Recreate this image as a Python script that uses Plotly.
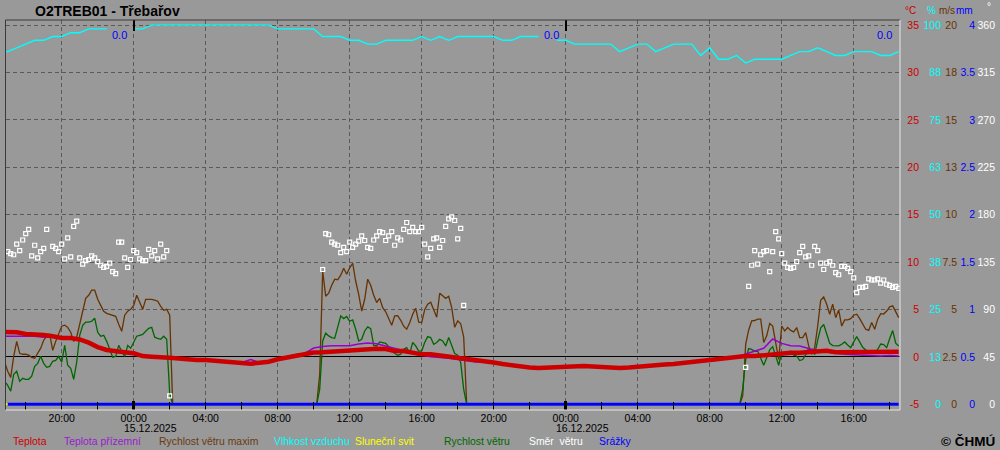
import plotly.graph_objects as go
import pandas as pd

FONT = "Liberation Sans, Arial, sans-serif"

# ---------------- DATA ----------------
# 30-minute grid 14.12.2025 16:30 ... 16.12.2025 18:30
t30_start = "2025-12-14 16:30"
teplota = [2.63, 2.60, 2.60, 2.42, 2.42, 2.31, 2.17, 1.99, 1.99, 1.84,
           1.50, 1.04, 0.73, 0.55, 0.49, 0.38, 0.09, 0.02, 0.02, -0.08,
           -0.17, -0.27, -0.33, -0.33, -0.43, -0.43, -0.57, -0.64, -0.72, -0.61,
           -0.51, -0.25, -0.08, 0.02, 0.25, 0.46, 0.49, 0.55, 0.62, 0.76,
           0.76, 0.86, 0.86, 0.83, 0.62, 0.62, 0.44, 0.27, 0.27, 0.15,
           0.13, -0.04, -0.17, -0.33, -0.46, -0.59, -0.75, -0.91, -1.01, -1.12,
           -1.17, -1.12, -1.07, -1.01, -0.96, -0.96, -1.01, -1.07, -1.12, -1.17,
           -1.12, -1.01, -0.96, -0.85, -0.80, -0.75, -0.64, -0.54, -0.49, -0.38,
           -0.27, -0.12, -0.04, 0.09, 0.09, 0.20, 0.34, 0.34, 0.44, 0.44,
           0.52, 0.52, 0.65, 0.49, 0.49, 0.49, 0.49, 0.55, 0.55, 0.55,
           0.55]
teplota_prizemni = [2.17, 2.17, 2.17, 2.17, 2.17, 2.07, 2.07, 2.07, 1.94, 1.78,
                    1.41, 0.99, 0.68, 0.52, 0.41, 0.31, 0.04, -0.01, -0.01, -0.12,
                    -0.19, -0.30, -0.35, -0.35, -0.45, -0.45, -0.59, -0.59, -0.27, -0.61,
                    -0.51, -0.22, 0.04, 0.25, 0.36, 0.94, 1.10, 1.18, 1.18, 1.18,
                    1.36, 1.47, 1.39, 1.15, 0.91, 0.68, 0.38, 0.17, 0.02, -0.04,
                    -0.15, -0.27, -0.43, -0.54, -0.51, -0.64, -0.80, -0.96, -1.06, -1.17,
                    -1.22, -1.17, -1.12, -1.06, -1.01, -1.01, -1.06, -1.12, -1.17, -1.22,
                    -1.17, -1.06, -1.01, -0.90, -0.85, -0.80, -0.69, -0.59, -0.54, -0.43,
                    -0.32, -0.17, -0.04, 0.31, 0.65, 0.91, 1.89, 1.43, 1.18, 1.15,
                    0.89, 0.64, 0.52, 0.38, 0.28, 0.22, 0.15, 0.09, 0.09, 0.15,
                    0.09]
vlhkost = [93, 93, 94, 95, 96, 96, 97, 97, 98, 98,
           99, 99, 99, None, None, 99, 99, 100, 100, 100,
           100, 100, 100, 100, 100, 100, 100, 100, 100, 100,
           100, 99, 99, 99, 99, 99, 97, 97, 97, 96,
           96, 95, 95, 96, 96, 96, 96, 97, 96, 97,
           96, 97, 97, 97, 97, 97, 96, 96, 97, 97,
           97, None, 96, 96, 95, 95, 95, 95, 95, 93,
           94, 95, 95, 93, 94, 95, 95, 95, 92, 94,
           91, 91, 92, 90, 91, 91, 91, 91, 92, 93,
           93, 94, 93, 92, 92, 93, 93, 93, 92, 92,
           93]
slunecni_svit = [0, 0, 0, 0, 0, 0, 0, 0, 0, 0, 0, 0, 0, 0, 0, 0, 0, 0, 0, 0,
                 0, 0, 0, 0, 0, 0, 0, 0, 0, 0, 0, 0, 0, 0, 0, 0, 0, 0, 0, 0,
                 0, 0, 0, 0, 0, 0, 0, 0, 0, 0, 0, 0, 0, 0, 0, 0, 0, 0, 0, 0,
                 0, 0, 0, 0, 0, 0, 0, 0, 0, 0, 0, 0, 0, 0, 0, 0, 0, 0, 0, 0,
                 0, 0, 0, 0, 0, 0, 0, 0, 0, 0, 0, 0, 0, 0, 0, 0, 0, 0, 0, 0,
                 0]
# precipitation, 30-minute grid 14.12 17:00 ... 16.12 18:30
srazky_start = "2025-12-14 17:00"
srazky = [0.0, 0.0, 0.0, 0.0, 0.0, 0.0, 0.0, 0.0, 0.0, 0.0, 0.0, 0.0, 0.0, 0.0, 0.0, 0.0, 0.0, 0.0, 0.0, 0.0,
          0.0, 0.0, 0.0, 0.0, 0.0, 0.0, 0.0, 0.0, 0.0, 0.0, 0.0, 0.0, 0.0, 0.0, 0.0, 0.0, 0.0, 0.0, 0.0, 0.0,
          0.0, 0.0, 0.0, 0.0, 0.0, 0.0, 0.0, 0.0, 0.0, 0.0, 0.0, 0.0, 0.0, 0.0, 0.0, 0.0, 0.0, 0.0, 0.0, 0.0,
          0.0, 0.0, 0.0, 0.0, 0.0, 0.0, 0.0, 0.0, 0.0, 0.0, 0.0, 0.0, 0.0, 0.0, 0.0, 0.0, 0.0, 0.0, 0.0, 0.0,
          0.0, 0.0, 0.0, 0.0, 0.0, 0.0, 0.0, 0.0, 0.0, 0.0, 0.0, 0.0, 0.0, 0.0, 0.0, 0.0, 0.0, 0.0, 0.0, 0.0]
denni_srazky_cas = ["2025-12-15 00:00", "2025-12-16 00:00", "2025-12-16 18:30"]
denni_srazky = [0.0, 0.0, 0.0]

# wind, 10-minute steps, three windy periods (calm = 0 in between)
vitr_useky = ["2025-12-14 16:50", "2025-12-15 10:10", "2025-12-16 09:40"]
vitr_max_A = [2.22, 1.74, 1.42, 2.53, 3.32, 2.69, 2.64, 2.64, 2.59, 2.48,
              2.43, 2.69, 2.96, 3.38, 3.59, 3.69, 2.85, 3.32, 3.69, 4.12,
              4.17, 4.06, 3.80, 3.32, 3.54, 4.22, 4.91, 5.59, 5.75, 6.02,
              6.02, 5.54, 5.22, 4.91, 4.80, 4.75, 4.70, 4.64, 4.22, 3.85,
              4.70, 4.91, 5.01, 5.22, 5.75, 5.33, 5.01, 5.54, 5.54, 5.54,
              5.49, 5.44, 5.17, 4.96, 5.01, 4.70, 0.0]
vitr_max_B = [0.0, 1.58, 7.02, 5.70, 5.86, 6.28, 6.60, 6.57, 6.81, 7.18,
              6.86, 7.20, 7.44, 6.49, 5.80, 4.92, 5.54, 6.60, 6.28, 5.75,
              5.37, 5.59, 5.10, 4.88, 4.54, 4.17, 4.67, 4.68, 4.43, 4.12,
              3.96, 4.30, 4.75, 5.07, 4.33, 4.31, 4.99, 5.28, 5.38, 4.99,
              4.59, 5.86, 5.70, 5.59, 5.70, 5.10, 4.06, 4.40, 4.25, 3.54,
              0.0]
vitr_max_C = [0.0, 0.44, 3.17, 3.92, 4.40, 4.42, 4.49, 4.49, 3.26, 3.61,
              4.27, 4.13, 3.29, 2.37, 4.13, 3.87, 4.05, 3.90, 3.82, 4.05,
              3.52, 3.52, 3.78, 3.08, 2.64, 2.99, 4.13, 5.49, 5.66, 5.28,
              4.75, 5.28, 4.57, 4.98, 4.13, 4.45, 4.45, 4.52, 4.70, 4.75,
              4.52, 4.20, 3.96, 3.90, 4.31, 3.96, 4.49, 4.78, 4.76, 4.92,
              5.14, 5.19, 4.87, 4.57]
vitr_A = [1.21, 1.00, 0.69, 1.58, 1.74, 1.21, 1.37, 1.32, 1.32, 1.48,
          2.00, 2.16, 2.53, 2.16, 1.95, 2.00, 2.27, 2.32, 2.53, 2.22,
          3.11, 2.06, 1.90, 1.32, 2.22, 3.64, 4.17, 4.33, 4.33, 4.38,
          4.54, 3.80, 3.59, 3.64, 3.32, 2.90, 2.48, 2.53, 3.11, 2.80,
          2.53, 3.11, 2.96, 3.27, 3.59, 3.64, 3.69, 3.85, 4.01, 4.06,
          3.54, 3.48, 3.43, 3.59, 3.43, 0.58, 0.0]
vitr_B = [0.0, 0.79, 3.34, 3.75, 3.61, 3.52, 3.48, 4.13, 4.66, 4.52,
          4.63, 4.38, 4.45, 3.96, 3.34, 3.43, 3.87, 4.08, 3.99, 3.11,
          3.08, 3.29, 3.26, 3.22, 3.04, 2.81, 2.69, 2.59, 2.64, 2.90,
          2.99, 2.69, 3.26, 3.08, 2.81, 2.81, 3.26, 3.57, 3.52, 3.17,
          3.26, 3.43, 3.34, 3.08, 3.52, 3.08, 2.68, 2.59, 2.20, 0.79,
          0.0]
vitr_C = [0.0, 0.79, 2.37, 2.94, 2.90, 2.80, 2.80, 2.46, 2.06, 2.46,
          2.87, 3.04, 2.59, 2.06, 2.73, 2.74, 2.69, 2.80, 2.59, 2.55,
          2.31, 2.36, 2.62, 2.97, 2.73, 2.64, 3.39, 4.03, 4.21, 3.69,
          3.22, 3.10, 3.10, 3.08, 3.17, 3.29, 3.13, 2.99, 3.29, 3.57,
          3.29, 3.01, 2.87, 2.69, 2.73, 2.73, 2.90, 3.18, 3.15, 2.99,
          3.47, 3.89, 3.22, 3.08]

# wind direction, 10-minute steps
smer_useky = ["2025-12-14 17:00", "2025-12-15 10:30", "2025-12-16 10:00"]
smer_A = [145, 143, 142, 152, 146, 156, 162, 166, 141, 151,
          139, 145, 148, 166, None, 150, 148, 145, 152, 138,
          158, 140, 169, 174, 139, 133, 136.5, 137.5, 141, 139,
          135.5, 132, 130, 131, 134, 126, 124, 154, 154, 139,
          130, 137.5, 146, 144, 138, 136.5, 136.5, 147, 141, 146,
          138, 152, 140, 146, 8]
smer_B = [128, 162, 161, 154, 152, 151, 144, 149, 145, 154,
          149, 152, 155, 160, 155.5, 149, 148, 156, 160, 164,
          163, 155.5, 160, 164, 151, 158, 156, 166, 172.6, 164,
          168, 164, 164, 168, 152, 140, 148, 157, 158, 149,
          155.5, 169, 176, 178, 174.5, 157, 167, 94]
smer_C = [35, 112, 132, 146, 133, 142, 145, 146, 126, 145,
          164, 157, 143, 134, 130, 129, 130, 135.5, 144, 150,
          140, 141, 132, 150, 146, 134, 128, 134, 135.5, 132,
          125, 123, 131, 131, 129, 126, 120, 106, 111, 111,
          112, 119, 118, 118, 119, 115, 118, 114, 113, 111,
          112, 110]

# axis labels
cas_ticky_start = "2025-12-14 20:00"
cas_ticky_text = ["20:00", "00:00", "04:00", "08:00", "12:00", "16:00",
                  "20:00", "00:00", "04:00", "08:00", "12:00", "16:00"]
pulnoci = ["2025-12-15 00:00", "2025-12-16 00:00"]
datum_text = ["15.12.2025", "16.12.2025"]

tick_C = [-5, 0, 5, 10, 15, 20, 25, 30, 35]
tick_pct = [0, 12.5, 25, 37.5, 50, 62.5, 75, 87.5, 100]
tick_pct_text = ["0", "13", "25", "38", "50", "63", "75", "88", "100"]
tick_ms = [0, 2.5, 5, 7.5, 10, 12.5, 15, 17.5, 20]
tick_ms_text = ["0", "2.5", "5", "7.5", "10", "13", "15", "18", "20"]
tick_mm = [0, 0.5, 1, 1.5, 2, 2.5, 3, 3.5, 4]
tick_mm_text = ["0", "0.5", "1", "1.5", "2", "2.5", "3", "3.5", "4"]
tick_deg = [0, 45, 90, 135, 180, 225, 270, 315, 360]

legenda = [("Teplota", "#D00000", 11),
           ("Teplota přízemní", "#9A1AD0", 62),
           ("Rychlost větru maxim", "#6B3A10", 157),
           ("Vlhkost vzduchu", "#00FFFF", 272),
           ("Sluneční svit", "#FFFF00", 353),
           ("Rychlost větru", "#006600", 442),
           ("Směr\u00a0\u00a0větru", "#FFFFFF", 527),
           ("Srážky", "#0000FF", 597)]

# ---------------- TIME AXES FOR SERIES ----------------
def grid(start, n, step):
    return list(pd.date_range(start, periods=n, freq=step))

t30 = grid(t30_start, len(teplota), "30min")
t_srazky = grid(srazky_start, len(srazky), "30min")
t_vitr, v_max, v_avg = [], [], []
for start, a, b in zip(vitr_useky, [vitr_max_A, vitr_max_B, vitr_max_C], [vitr_A, vitr_B, vitr_C]):
    t_vitr += grid(start, len(a), "10min")
    v_max += a
    v_avg += b
t_smer, smer = [], []
for start, s in zip(smer_useky, [smer_A, smer_B, smer_C]):
    t_smer += grid(start, len(s), "10min")
    smer += s

# ---------------- SCALES ----------------
T_LO, T_HI = -5.6, 35.54
rng_C = [T_LO, T_HI]
rng_pct = [(T_LO + 5) * 2.5, (T_HI + 5) * 2.5]
rng_ms = [(T_LO + 5) / 2, (T_HI + 5) / 2]
rng_min = [(T_LO + 5) * 1.5, (T_HI + 5) * 1.5]
rng_mm = [(T_LO + 5) / 10, (T_HI + 5) / 10]
rng_deg = [(T_LO + 5) * 9, (T_HI + 5) * 9]

X_RANGE = ["2025-12-14 16:52:40", "2025-12-16 18:34:20"]
X_DOM = [0.0055, 0.9]
Y_DOM = [40 / 450, 430 / 450]
BG = "#999999"
GRID = "#5A5A5A"

fig = go.Figure()
# dummy traces so the axis-only subplots exist
fig.add_trace(go.Scatter(x=[], y=[], xaxis="x", yaxis="y", showlegend=False, hoverinfo="skip"))
fig.add_trace(go.Scatter(x=[], y=[], xaxis="x2", yaxis="y", showlegend=False, hoverinfo="skip"))
fig.add_trace(go.Scatter(x=[], y=[], xaxis="x3", yaxis="y", showlegend=False, hoverinfo="skip"))

fig.add_trace(go.Scatter(x=t30, y=vlhkost, yaxis="y2", mode="lines", name="Vlhkost vzduchu",
                         line=dict(color="#00FFFF", width=1.4), connectgaps=False))
fig.add_trace(go.Scatter(x=t_vitr, y=v_max, yaxis="y3", mode="lines", name="Rychlost větru maxim",
                         line=dict(color="#663300", width=1.3)))
fig.add_trace(go.Scatter(x=t_vitr, y=v_avg, yaxis="y3", mode="lines", name="Rychlost větru",
                         line=dict(color="#006600", width=1.3)))
fig.add_trace(go.Scatter(x=t30, y=slunecni_svit, yaxis="y4", mode="lines", name="Sluneční svit",
                         line=dict(color="#FFFF00", width=2)))
fig.add_trace(go.Scatter(x=t_srazky, y=srazky, yaxis="y5", mode="lines", name="Srážky",
                         line=dict(color="#0000FF", width=3)))
fig.add_trace(go.Scatter(x=t_smer, y=smer, yaxis="y6", mode="markers", name="Směr větru",
                         marker=dict(symbol="square-open", size=4, color="white",
                                     line=dict(width=1.2, color="white"))))
fig.add_trace(go.Scatter(x=t30, y=teplota_prizemni, yaxis="y7", mode="lines", name="Teplota přízemní",
                         line=dict(color="#9900CC", width=1.5)))
fig.add_trace(go.Scatter(x=t30, y=teplota, yaxis="y7", mode="lines", name="Teplota",
                         line=dict(color="#CC0000", width=4.5)))

tick_font = dict(family=FONT, size=10.5)

def side_axis(rng, vals, text, color, pos, overlay=True):
    d = dict(range=rng, domain=Y_DOM, anchor="free", position=pos, side="left",
             tickmode="array", tickvals=vals, ticktext=text,
             tickfont=dict(tick_font, color=color), ticks="", showline=False,
             showgrid=False, zeroline=False, automargin=False, fixedrange=True)
    if overlay:
        d["overlaying"] = "y"
    return d

yaxis_main = side_axis(rng_C, tick_C, [str(v) for v in tick_C], "#CC0000", 0.919, overlay=False)
yaxis_main.update(showgrid=True, gridcolor=GRID, griddash="4px,3px", gridwidth=1,
                  zeroline=True, zerolinecolor="black", zerolinewidth=1)

fig.update_layout(
    width=1000, height=450,
    margin=dict(l=0, r=0, t=0, b=0),
    paper_bgcolor=BG, plot_bgcolor=BG,
    showlegend=False,
    hovermode=False,
    font=dict(family=FONT, size=11, color="black"),
    xaxis=dict(type="date", range=X_RANGE, domain=X_DOM, anchor="y",
               tickmode="array",
               tickvals=grid(cas_ticky_start, len(cas_ticky_text), "4h"),
               ticktext=cas_ticky_text, tickfont=tick_font,
               ticks="inside", ticklen=8, tickcolor="black", tickwidth=1,
               minor=dict(ticks="inside", ticklen=8, tickcolor="black", tickwidth=1,
                          dtick=2 * 3600 * 1000, tick0="2025-12-14 00:00", showgrid=False),
               showgrid=True, gridcolor=GRID, griddash="4px,3px", gridwidth=1,
               showline=False, zeroline=False, automargin=False, fixedrange=True),
    xaxis2=dict(type="date", range=X_RANGE, domain=X_DOM, anchor="y", overlaying="x", side="top",
                tickmode="array", tickvals=pulnoci, showticklabels=False,
                ticks="inside", ticklen=11, tickwidth=2, tickcolor="black",
                showgrid=False, showline=False, zeroline=False, fixedrange=True),
    xaxis3=dict(type="date", range=X_RANGE, domain=X_DOM, anchor="y", overlaying="x", side="bottom",
                tickmode="array", tickvals=pulnoci, showticklabels=False,
                ticks="inside", ticklen=9, tickwidth=3, tickcolor="black",
                showgrid=False, showline=False, zeroline=False, fixedrange=True),
    yaxis=yaxis_main,
    yaxis2=side_axis(rng_pct, tick_pct, tick_pct_text, "#00FFFF", 0.941),
    yaxis3=side_axis(rng_ms, tick_ms, tick_ms_text, "#663300", 0.957),
    yaxis4=dict(range=rng_min, domain=Y_DOM, overlaying="y", visible=False, fixedrange=True),
    yaxis5=side_axis(rng_mm, tick_mm, tick_mm_text, "#0000FF", 0.975),
    yaxis6=side_axis(rng_deg, tick_deg, [str(v) for v in tick_deg], "#FFFFFF", 0.995),
    yaxis7=dict(range=rng_C, domain=Y_DOM, overlaying="y", visible=False, fixedrange=True),
)

# frame (3D-like border)
x0p, x1p = X_DOM
y0p, y1p = Y_DOM
frame = [
    (x0p, y1p, x1p, y1p, "#3A3A3A"),
    (x0p, y0p, x0p, y1p, "#3A3A3A"),
    (x1p, y0p, x1p, y1p, "#E6E6E6"),
    (x0p, y0p, x1p, y0p, "#E6E6E6"),
]
for a, b, c, d, col in frame:
    fig.add_shape(type="line", xref="paper", yref="paper", x0=a, y0=b, x1=c, y1=d,
                  line=dict(color=col, width=1), layer="above")

ann = []
ann.append(dict(text="<b>O2TREB01 - Třebařov</b>", xref="paper", yref="paper",
                x=0.033, y=1 - 11 / 450, xanchor="left", yanchor="middle", showarrow=False,
                font=dict(family=FONT, size=14, color="black")))
# unit headers
for txt, col, xp, anchor, ypx in [("°C", "#CC0000", 0.918, "right", 10),
                                  ("%", "#00FFFF", 0.9315, "center", 10),
                                  ("m/s", "#663300", 0.957, "right", 10),
                                  ("mm", "#0000FF", 0.975, "right", 10),
                                  ("°", "#FFFFFF", 0.993, "right", 7)]:
    ann.append(dict(text=txt, xref="paper", yref="paper", x=xp, y=1 - ypx / 450,
                    xanchor=anchor, yanchor="middle", showarrow=False,
                    font=dict(family=FONT, size=10, color=col)))
# daily precipitation totals
for tx, val in zip(denni_srazky_cas, denni_srazky):
    ann.append(dict(text=f"{val:.1f}", x=tx, y=34, xref="x", yref="y7",
                    xanchor="right", yanchor="middle", xshift=-5, showarrow=False,
                    font=dict(family=FONT, size=11, color="#0000FF")))
# dates under midnights
for tx, txt in zip(pulnoci, datum_text):
    ann.append(dict(text=txt, x=tx, y=1 - 428 / 450, xref="x", yref="paper",
                    xanchor="left", yanchor="middle", xshift=-12, showarrow=False,
                    font=dict(family=FONT, size=10.5, color="black")))
# legend
for name, col, xpx in legenda:
    ann.append(dict(text=name, x=xpx / 1000, y=1 - 441 / 450, xref="paper", yref="paper",
                    xanchor="left", yanchor="middle", showarrow=False,
                    font=dict(family=FONT, size=10.4, color=col)))
ann.append(dict(text="<b>© ČHMÚ</b>", x=0.997, y=1 - 441 / 450, xref="paper", yref="paper",
                xanchor="right", yanchor="middle", showarrow=False,
                font=dict(family=FONT, size=13.5, color="black")))
fig.update_layout(annotations=ann)

fig.write_html("out.html",
               config={"displayModeBar": False, "staticPlot": True},
               post_script="document.body.style.margin='0';document.body.style.padding='0';")
